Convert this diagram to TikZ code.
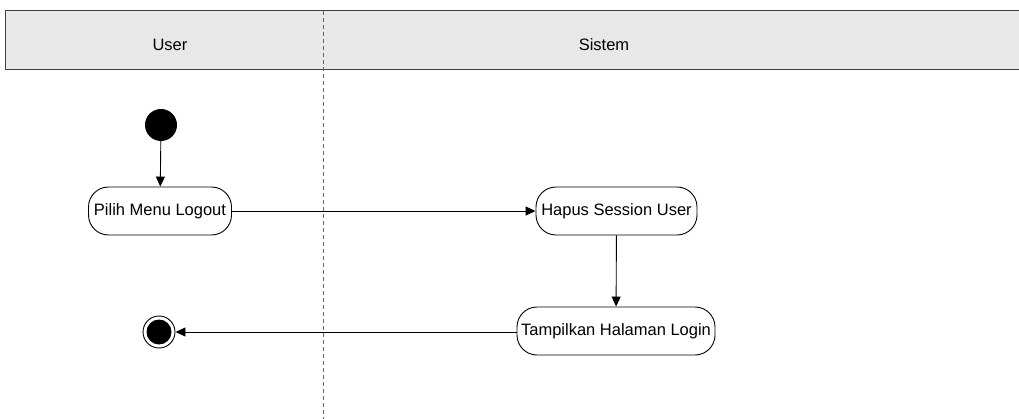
\documentclass[tikz,border=0pt]{standalone}
\usepackage{fontspec}
\setmainfont{Liberation Sans}
\usetikzlibrary{arrows.meta}
\begin{document}
\begin{tikzpicture}[x=1pt,y=-1pt,
  txt/.style={font=\fontsize{16.5}{18}\selectfont, text=black},
  action/.style={txt, draw=black, line width=0.9pt, rounded corners=20pt, fill=white,
     minimum height=48pt, inner sep=0pt},
  flow/.style={draw=black, line width=0.9pt, -{Triangle[length=10pt,width=9pt]}},
  lane/.style={draw=black!60, line width=0.7pt, dash pattern=on 4pt off 3pt}]
\useasboundingbox (0,0) rectangle (1019,419);
\fill[white] (0,0) rectangle (1019,419);
% header
\fill[black!9] (5,11) rectangle (1022,70);
\draw[black!75, line width=1pt] (1022,11) -- (5,11) -- (5,70) -- (1022,70);
\node[txt] (hUser) at (170,45) {User};
\node[txt] (hSistem) at (604,45) {Sistem};
% lane divider
\coordinate (laneTop) at (323,11);
\coordinate (laneBot) at (323,419);
\draw[lane] (laneTop) -- (laneBot);
% nodes
\node[circle, fill=black, minimum size=32pt, inner sep=0pt] (start) at (161,125) {};
\node[action, minimum width=143pt] (pilih) at (160,211) {Pilih Menu Logout};
\node[action, minimum width=161pt] (hapus) at (616.5,211) {Hapus Session User};
\node[action, minimum width=198pt] (tampil) at (616,331) {Tampilkan Halaman Login};
\node[circle, draw=black, line width=0.9pt, fill=white, minimum size=32pt, inner sep=0pt] (endo) at (159,332) {};
\node[circle, fill=black, minimum size=25pt, inner sep=0pt] (endi) at (endo) {};
% flows
\draw[flow] (start) -- (pilih);
\draw[flow] (pilih) -- (hapus);
\draw[flow] (hapus) -- (tampil);
\draw[flow] (tampil.west |- endo) -- (endo);
\end{tikzpicture}
\end{document}
